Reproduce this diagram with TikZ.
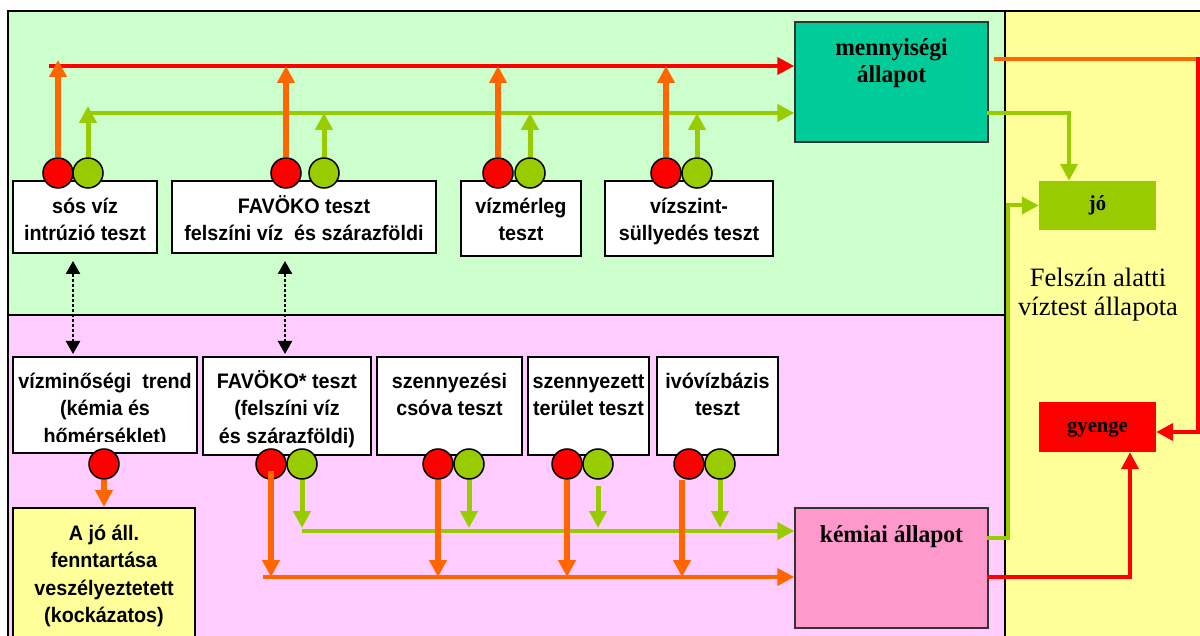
\documentclass[tikz,border=0pt]{standalone}
\usepackage{fontspec}
\setmainfont{Liberation Serif}
\newfontfamily\arialfont[FakeStretch=0.94]{Liberation Sans}
\newfontfamily\timesnarrow[FakeStretch=0.96]{Liberation Serif}
\usetikzlibrary{arrows.meta}

\definecolor{bgGreen}{HTML}{CCFFCC}
\definecolor{bgPink}{HTML}{FFCCFF}
\definecolor{bgYellow}{HTML}{FFFF99}
\definecolor{stTeal}{HTML}{00CC99}
\definecolor{lime}{HTML}{99CC00}
\definecolor{sigRed}{HTML}{FF0000}
\definecolor{sigOrange}{HTML}{FF6600}
\definecolor{stPink}{HTML}{FF99CC}

% fixed first-line heights, so that labels can be placed by their first baseline
\newcommand\fstrut{\rule{0pt}{19pt}}
\newcommand\sstrut{\rule{0pt}{20pt}}
\newcommand\lstrut{\rule{0pt}{24pt}}

\tikzset{
  testbox/.style={draw=black, line width=2pt, fill=white, inner sep=0pt},
  lbl/.style={font=\arialfont\bfseries\fontsize{21}{27.5}\selectfont,
              align=center, inner sep=0pt, anchor=north},
  statelbl/.style={font=\timesnarrow\bfseries\fontsize{24.5}{27}\selectfont,
              align=center, inner sep=0pt},
  lamp/.style={circle, draw=black, line width=1.5pt, minimum size=30pt, inner sep=0pt},
  redlamp/.style={lamp, fill=sigRed},
  greenlamp/.style={lamp, fill=lime},
  arrowhd/.style={-{Triangle[width=17pt,length=17pt]}},
  orup/.style={draw=sigOrange, line width=6pt, arrowhd},
  grup/.style={draw=lime, line width=5pt, arrowhd},
  redbus/.style={draw=sigRed, line width=4pt},
  grbus/.style={draw=lime, line width=4pt},
  orbus/.style={draw=sigOrange, line width=4pt},
  dotarr/.style={draw=black, line width=2.5pt, dash pattern=on 2.5pt off 2.5pt,
                 {Triangle[width=14pt,length=13pt]}-{Triangle[width=14pt,length=13pt]}},
}

\begin{document}
\begin{tikzpicture}[x=1pt,y=-1pt]
\useasboundingbox (0,0) rectangle (1200,636);
\clip (0,0) rectangle (1200,636);
\fill[white] (0,0) rectangle (1200,636);

% --- three regions: quantity (green), chemistry (pink), overall state (yellow)
\fill[bgGreen] (8,11) rectangle (1005,315);
\fill[bgPink] (8,315) rectangle (1005,650);
\fill[bgYellow] (1005,11) rectangle (1210,650);
\draw[black, line width=2.5pt] (8,650) -- (8,11) -- (1210,11);
\draw[black, line width=2.5pt] (8,315) -- (1005,315);
\draw[black, line width=2pt] (1005,11) -- (1005,650);

% --- quantity tests
\node[testbox, minimum width=144pt, minimum height=72pt] (b1) at (85,217) {};
\node[testbox, minimum width=264pt, minimum height=72pt] (b2) at (304,217) {};
\node[testbox, minimum width=120pt, minimum height=75pt] (b3) at (521,218.5) {};
\node[testbox, minimum width=168pt, minimum height=75pt] (b4) at (689,218.5) {};
\node[lbl] (t1) at (85,194) {\fstrut sós víz\\intrúzió teszt};
\node[lbl] (t2) at (304,194) {\fstrut FAVÖKO teszt\\felszíni víz\ \ és szárazföldi};
\node[lbl] (t3) at (521,194) {\fstrut vízmérleg\\teszt};
\node[lbl] (t4) at (689,194) {\fstrut vízszint-\\süllyedés teszt};

% --- chemical tests
\node[testbox, minimum width=184pt, minimum height=96pt] (b5) at (105,405) {};
\node[testbox, minimum width=168pt, minimum height=98pt] (b6) at (287,406) {};
\node[testbox, minimum width=145pt, minimum height=98pt] (b7) at (449.5,406) {};
\node[testbox, minimum width=121pt, minimum height=98pt] (b8) at (588.5,406) {};
\node[testbox, minimum width=121pt, minimum height=98pt] (b9) at (717.5,406) {};
\begin{scope}
  \clip (13,357) rectangle (197,441);
  \node[lbl] (t5) at (105,369) {\fstrut vízminőségi\ \ trend\\(kémia és\\hőmérséklet)};
\end{scope}
\node[lbl] (t6) at (287,369) {\fstrut FAVÖKO* teszt\\(felszíni víz\\és szárazföldi)};
\node[lbl] (t7) at (449.5,369) {\fstrut szennyezési\\csóva teszt};
\node[lbl] (t8) at (588.5,369) {\fstrut szennyezett\\terület teszt};
\node[lbl] (t9) at (717.5,369) {\fstrut ivóvízbázis\\teszt};

\node[draw=black, line width=2pt, fill=bgYellow, inner sep=0pt,
      minimum width=182pt, minimum height=142pt] (ajo) at (104,579) {};
\node[lbl] (tajo) at (104,521) {\fstrut A jó áll.\\fenntartása\\veszélyeztetett\\(kockázatos)};

% --- state boxes
\node[draw=black!80, line width=1.5pt, fill=stTeal, minimum width=193pt,
      minimum height=120pt, inner sep=0pt] (menny) at (891.5,82) {};
\node[statelbl, anchor=north] (tmenny) at (891.5,35) {\sstrut mennyiségi\\állapot};
\node[draw=black!80, line width=1.5pt, fill=stPink, minimum width=193pt,
      minimum height=120pt, inner sep=0pt] (kem) at (891.5,568) {};
\node[statelbl, anchor=base] (tkem) at (891.5,542) {kémiai állapot};
\node[fill=lime, minimum width=117pt, minimum height=49pt, inner sep=0pt] (jo) at (1097.5,205.5) {};
\node[font=\timesnarrow\bfseries\fontsize{21.5}{25}\selectfont, inner sep=0pt, anchor=base] (tjo) at (1097.5,211) {jó};
\node[fill=sigRed, minimum width=117pt, minimum height=50pt, inner sep=0pt] (gy) at (1097.5,427) {};
\node[font=\timesnarrow\bfseries\fontsize{21.5}{25}\selectfont, inner sep=0pt, anchor=base] (tgy) at (1097.5,432) {gyenge};
\node[font=\fontsize{26.5}{29}\selectfont, align=center, inner sep=0pt, anchor=north]
  (tfa) at (1098,262) {\lstrut Felszín alatti\\víztest állapota};

% --- signal lamps
\node[redlamp] (r1) at (58,173) {};   \node[greenlamp] (g1) at (88,173) {};
\node[redlamp] (r2) at (286,173) {};  \node[greenlamp] (g2) at (324,173) {};
\node[redlamp] (r3) at (498,173) {};  \node[greenlamp] (g3) at (530,173) {};
\node[redlamp] (r4) at (666,173) {};  \node[greenlamp] (g4) at (697,173) {};
\node[redlamp] (r5) at (104,464) {};
\node[redlamp] (r6) at (271,464) {};  \node[greenlamp] (g6) at (302,464) {};
\node[redlamp] (r7) at (438,464) {};  \node[greenlamp] (g7) at (469,464) {};
\node[redlamp] (r8) at (567,464) {};  \node[greenlamp] (g8) at (598,464) {};
\node[redlamp] (r9) at (689,464) {};  \node[greenlamp] (g9) at (720,464) {};

% --- quantity buses
\coordinate (redL) at (49,66);
\coordinate (redHi) at (0,60);
\coordinate (grL) at (88,113);
\coordinate (grHi) at (0,106);
\draw[redbus, arrowhd] (redL) -- (menny.west |- redL);
\draw[grbus, arrowhd] (g1.north |- grL) -- (menny.west |- grL);
\draw[orup] (r1.north) -- (r1.north |- redHi);
\draw[grup] (g1.north) -- (g1.north |- grHi);
\foreach \i in {2,3,4} {
  \draw[orup] (r\i.north) -- (r\i.north |- redL);
  \draw[grup] (g\i.north) -- (g\i.north |- grL);
}

% --- chemistry buses
\coordinate (orL) at (263,577);
\coordinate (grB) at (302,531);
\coordinate (grBtip) at (0,528);
\draw[orbus, arrowhd] (orL) -- (kem.west |- orL);
\draw[grbus, arrowhd] (grB) -- (kem.west |- grB);
\draw[orup] ([yshift=9pt]r6.south) -- (r6.south |- orL);
\draw[orup] (r7.south) -- (r7.south |- orL);
\draw[orup] (r8.south) -- (r8.south |- orL);
\coordinate (o9) at ([xshift=-7pt]r9.south);
\draw[orup] (o9) -- (o9 |- orL);
\draw[grup] (g6.south) -- (g6.south |- grBtip);
\draw[grup] (g7.south) -- (g7.south |- grBtip);
\draw[grup, shorten <=6pt] (g8.south) -- (g8.south |- grBtip);
\draw[grup] (g9.south) -- (g9.south |- grBtip);
\draw[orup] (r5.south) -- (ajo.north);

% --- links between the two test groups
\coordinate (dx1) at (73,0);
\coordinate (dx2) at (285,0);
\draw[dotarr, shorten <=2pt, shorten >=7pt] (b5.north -| dx1) -- (b1.south -| dx1);
\draw[dotarr, shorten <=2pt, shorten >=7pt] (b6.north -| dx2) -- (b2.south -| dx2);

% --- outputs of the state boxes
\coordinate (mOut) at (0,59);
\coordinate (cR) at (1198,59);
\coordinate (gyIn) at (1198,432);
\draw[orbus, shorten <=5pt] (menny.east |- mOut) -- (cR);
\draw[redbus, arrowhd, line join=miter] ([yshift=2pt]cR) -- (gyIn) -- (gy.east |- gyIn);
\coordinate (mG) at (0,113);
\coordinate (jIn) at (1069,0);
\draw[grbus, arrowhd] ([xshift=-2pt]menny.east |- mG) -| (jo.north -| jIn);
\coordinate (kG) at (0,538);
\coordinate (kV) at (1008,538);
\draw[grbus, arrowhd] ([xshift=-2pt]kem.east |- kG) -- (kV) |- (jo.west);
\coordinate (kR) at (0,577);
\coordinate (gIn) at (1130,0);
\draw[redbus, arrowhd] ([xshift=-2pt]kem.east |- kR) -| (gy.south -| gIn);
\end{tikzpicture}
\end{document}
